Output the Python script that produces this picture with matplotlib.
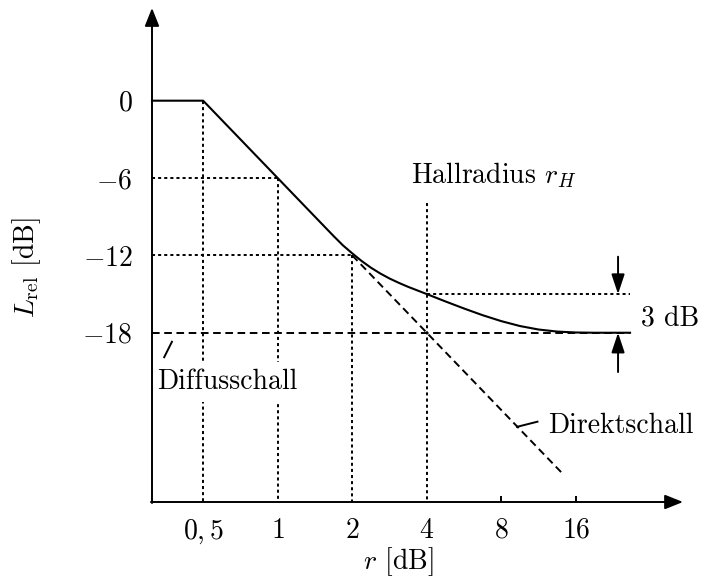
import matplotlib.pyplot as plt
from matplotlib.ticker import NullLocator

plt.rcParams['font.family'] = 'serif'
plt.rcParams['font.serif'] = ['cmr10']
plt.rcParams['mathtext.fontset'] = 'cm'
plt.rcParams['axes.unicode_minus'] = False
plt.rcParams['lines.scale_dashes'] = False

# Achsen
r_ticks = [0.5, 1, 2, 4, 8, 16]
r_labels = ['$0,5$', '$1$', '$2$', '$4$', '$8$', '$16$']
L_ticks = [0, -6, -12, -18]
L_labels = ['$0$', '$-6$', '$-12$', '$-18$']
r_min, r_max = 0.3107, 43.36
L_min, L_max = -31.13, 7.19

# Gesamtpegel (Direkt- + Diffusschall)
r_total = [r_min, 0.5, 1, 1.414, 1.682, 1.834, 2, 2.181, 2.378, 2.594, 2.828,
           3.085, 3.364, 4, 4.757, 5.657, 6.727, 8, 9.514, 11.31, 13.45, 16,
           19.03, 26.5]
L_total = [0, 0, -6, -9.0, -10.5, -11.22, -11.84, -12.43, -12.95, -13.4,
           -13.79, -14.13, -14.44, -15.0, -15.57, -16.12, -16.64, -17.1,
           -17.48, -17.75, -17.91, -17.98, -18.0, -18.0]

# Direktschall (-6 dB pro Abstandsverdopplung)
r_direct = [2, 14.1]
L_direct = [-12, -28.9]

# Diffusschall
L_diffus = -18
r_end = 26.5

# Hallradius
r_H = 4
L_H3 = -15

W, H = 703, 578
fig = plt.figure(figsize=(W / 100, H / 100), dpi=100)
ax = fig.add_axes([152 / W, 1 - 502 / H, (683 - 152) / W, (502 - 8) / H])
ax.set_xscale('log', base=2)
ax.set_xlim(r_min, r_max)
ax.set_ylim(L_min, L_max)
for s in ax.spines.values():
    s.set_visible(False)


def px(x, y):
    return x / W, 1 - y / H


dotted = dict(color='black', lw=1.4, ls=(0, (2.2, 2.2)), clip_on=False, zorder=2)
dashed = dict(color='black', lw=1.4, ls=(0, (5.5, 3.3)), clip_on=False, zorder=2)

# Hilfslinien
ax.plot([r_min, 1], [-6, -6], **dotted)
ax.plot([r_min, 2], [-12, -12], **dotted)
ax.plot([0.5, 0.5], [0, L_min], **dotted)
ax.plot([1, 1], [-6, L_min], **dotted)
ax.plot([2, 2], [-12, L_min], **dotted)
ax.plot([r_H, r_H], [-7.9, L_min], **dotted)
ax.plot([r_H, r_end], [L_H3, L_H3], **dotted)

ax.plot([r_min, r_end], [L_diffus, L_diffus], **dashed)
ax.plot(r_direct, L_direct, **dashed)
ax.plot(r_total, L_total, color='black', lw=1.5, clip_on=False,
        solid_joinstyle='round', zorder=3)

# Achsenpfeile
arrow = dict(arrowstyle='-|>,head_length=0.55,head_width=0.22',
             mutation_scale=20, lw=1.4, color='black', shrinkA=0, shrinkB=0)
ax.annotate('', xy=(1, 0), xytext=(-0.002, 0), xycoords='axes fraction',
            arrowprops=arrow, annotation_clip=False, zorder=5)
ax.annotate('', xy=(0, 1), xytext=(0, -0.002), xycoords='axes fraction',
            arrowprops=arrow, annotation_clip=False, zorder=5)

# 3 dB Markierung
r_arrow = 23.7
arrow3 = dict(arrowstyle='-|>,head_length=0.6,head_width=0.2',
              mutation_scale=20, lw=1.4, color='black', shrinkA=0, shrinkB=0)
ax.annotate('', xy=(r_arrow, L_H3), xytext=(r_arrow, -12.1), arrowprops=arrow3)
ax.annotate('', xy=(r_arrow, L_diffus), xytext=(r_arrow, -21.05), arrowprops=arrow3)

# Ticks
ax.set_xticks(r_ticks, r_labels)
ax.xaxis.set_minor_locator(NullLocator())
ax.tick_params(axis='x', direction='in', length=4, width=1.4, pad=11,
               labelsize=20)
for t in ax.xaxis.get_major_ticks()[:4]:
    t.tick1line.set_visible(False)
ax.set_yticks(L_ticks, L_labels)
ax.yaxis.set_minor_locator(NullLocator())
ax.tick_params(axis='y', length=0, pad=14, labelsize=20)

# Beschriftungen
fs = 20
fig.text(*px(411, 183), 'Hallradius $r_H$', fontsize=fs, va='baseline')
fig.text(*px(641, 325), '3 dB', fontsize=fs, va='baseline')
ax.text(*px(157, 389), 'Diffusschall', fontsize=fs, va='baseline', zorder=4,
        transform=fig.transFigure,
        bbox=dict(facecolor='white', edgecolor='none', pad=5))
fig.text(*px(548, 433), 'Direktschall', fontsize=fs, va='baseline')
fig.text(*px(363, 569), '$r$ [dB]', fontsize=fs, va='baseline')
fig.text(*px(27, 268), r'$L_{\mathrm{rel}}$ [dB]', fontsize=fs,
         rotation=90, ha='center', va='center')

# Zeiger zu den Beschriftungen
ax.plot([0.374, 0.348], [-18.7, -19.9], color='black', lw=1.4,
        clip_on=False, zorder=5)
ax.plot([9.26, 11.2], [-25.3, -24.9], color='black', lw=1.4,
        clip_on=False, zorder=5)

fig.savefig('out.png', dpi=100)
